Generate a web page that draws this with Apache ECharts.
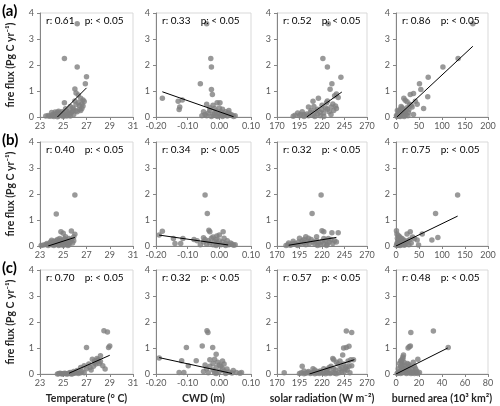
<!DOCTYPE html>
<html><head><meta charset="utf-8">
<script src="https://cdn.jsdelivr.net/npm/echarts@6/dist/echarts.min.js"></script>
<style>html,body{margin:0;padding:0;background:#fff}#c{width:500px;height:406px}</style>
</head><body><div id="c"></div><script>
// ---------- data ----------
const rowLabels = ['(a)', '(b)', '(c)'];
const xNames = ['Temperature (° C)', 'CWD (m)', 'solar radiation (W m⁻²)', 'burned area (10³ km²)'];
const yName = 'fire flux (Pg C yr⁻¹)';
const yTicks = [0, 1, 2, 3, 4];
const xTicksTemp = [23, 25, 27, 29, 31];
const xTicksCWD = [-0.20, -0.10, 0.00, 0.10];
const xTicksSolar = [170, 195, 220, 245, 270];
const xTicksBAab = [0, 50, 100, 150, 200];
const xTicksBAc = [0, 20, 40, 60, 80];
const rValues = [['0.61', '0.33', '0.52', '0.86'], ['0.40', '0.34', '0.32', '0.75'], ['0.70', '0.32', '0.57', '0.48']];
const pValue = '< 0.05';

const a_temp = [[26.2,3.59],[25.1,2.25],[26.2,1.92],[27.0,1.55],[26.9,1.28],[26.0,1.08],[26.1,0.92],[26.3,0.85],[26.5,0.72],[26.7,0.65],[25.1,0.55],[26.0,0.62],[26.3,0.55],[25.6,0.4],[26.6,0.33],[26.4,0.43],[25.9,0.3],[25.3,0.24],[24.9,0.2],[24.3,0.19],[24.0,0.17],[23.7,0.06],[23.5,0.04],[23.8,0.03],[24.4,0.1],[24.6,0.04],[25.1,0.08],[25.4,0.13],[25.7,0.17],[26.1,0.24],[26.4,0.3],[24.3,0.12],[24.6,0.22],[24.9,0.12],[25.6,0.04],[25.9,0.1],[24.0,0.04],[25.3,0.04],[25.8,0.36],[26.1,0.48],[26.6,0.5],[24.2,0.02],[24.8,0.06],[25.0,0.15],[25.5,0.2],[25.2,0.32],[24.5,0.18],[24.7,0.14],[25.8,0.22],[26.2,0.2],[26.5,0.25],[25.5,0.08],[24.1,0.1],[24.5,0.01],[25.0,0.02],[26.8,0.6],[26.7,0.42]];
const a_cwd = [[-0.04,3.59],[-0.027,2.25],[-0.025,1.92],[-0.06,1.28],[-0.025,1.06],[-0.022,0.87],[-0.18,0.72],[-0.13,0.61],[-0.117,0.65],[-0.125,0.38],[-0.127,0.29],[-0.007,0.55],[0.002,0.55],[-0.04,0.49],[-0.03,0.36],[-0.015,0.33],[-0.01,0.23],[0.01,0.3],[0.02,0.2],[0.03,0.15],[0.04,0.08],[0.05,0.05],[0.045,0.02],[-0.05,0.2],[-0.045,0.1],[-0.04,0.05],[-0.035,0.15],[-0.02,0.1],[-0.01,0.05],[0.0,0.12],[0.005,0.2],[0.015,0.08],[0.025,0.04],[0.035,0.1],[-0.025,0.02],[-0.005,0.02],[0.01,0.02],[0.0,0.35],[-0.02,0.45],[0.02,0.12],[-0.03,0.25],[-0.055,0.05],[0.03,0.25],[0.005,0.08],[-0.015,0.15]];
const a_solar = [[227,3.59],[221,2.25],[226,1.92],[241,1.53],[231,1.28],[229,1.07],[236,0.88],[234,0.82],[238,0.75],[216,0.72],[210,0.61],[226,0.62],[225,0.55],[205,0.38],[235,0.42],[236,0.33],[232,0.5],[200,0.1],[195,0.05],[190,0.07],[188,0.03],[193,0.15],[198,0.2],[203,0.12],[207,0.18],[210,0.08],[213,0.22],[215,0.12],[218,0.05],[220,0.28],[222,0.15],[224,0.35],[228,0.2],[230,0.1],[233,0.25],[215,0.3],[208,0.25],[200,0.02],[212,0.02],[222,0.02],[196,0.1],[205,0.05],[218,0.18],[226,0.3],[230,0.38],[220,0.45],[211,0.4]];
const a_ba = [[167,3.59],[135,2.25],[102,1.92],[70,1.53],[51,1.28],[54,1.06],[69,0.78],[31,0.87],[38,0.9],[17,0.72],[20,0.64],[24,0.59],[30,0.49],[35,0.38],[60,0.33],[13,0.36],[9,0.29],[17,0.23],[8,0.17],[42,0.61],[46,0.49],[24,0.36],[17,0.13],[27,0.17],[38,0.1],[3,0.05],[5,0.1],[2,0.02],[7,0.03],[10,0.08],[12,0.15],[14,0.05],[6,0.2],[4,0.12],[1,0.06],[9,0.02],[11,0.4],[15,0.3],[20,0.2],[22,0.1],[28,0.28],[33,0.45],[26,0.05],[18,0.02],[3,0.25]];
const b_temp = [[26.0,1.96],[24.4,1.23],[24.8,0.55],[25.0,0.49],[25.7,0.58],[26.0,0.45],[25.2,0.36],[25.5,0.29],[24.7,0.29],[25.9,0.35],[23.1,0.02],[23.3,0.04],[23.5,0.06],[23.6,0.1],[23.8,0.08],[23.9,0.15],[24.0,0.05],[24.1,0.12],[24.2,0.18],[24.3,0.08],[24.4,0.2],[24.5,0.1],[24.6,0.15],[24.7,0.05],[24.8,0.22],[24.9,0.12],[25.0,0.18],[25.1,0.08],[25.2,0.15],[25.3,0.22],[25.4,0.1],[25.5,0.05],[25.6,0.15],[25.7,0.25],[25.8,0.12],[25.9,0.2],[24.2,0.02],[24.6,0.02],[25.0,0.02],[25.4,0.02],[23.7,0.02],[24.0,0.22],[24.5,0.25],[25.1,0.28]];
const b_cwd = [[-0.045,1.96],[-0.038,1.25],[-0.19,0.42],[-0.18,0.57],[-0.145,0.29],[-0.14,0.1],[-0.122,0.1],[-0.115,0.29],[-0.033,0.61],[-0.03,0.55],[0.012,0.55],[-0.008,0.38],[-0.06,0.05],[-0.05,0.15],[-0.045,0.25],[-0.04,0.08],[-0.035,0.2],[-0.03,0.12],[-0.025,0.3],[-0.02,0.05],[-0.015,0.18],[-0.01,0.25],[-0.005,0.1],[0.0,0.2],[0.005,0.05],[0.01,0.15],[0.015,0.3],[0.02,0.1],[0.025,0.2],[0.03,0.05],[0.035,0.12],[0.04,0.08],[0.045,0.03],[0.05,0.05],[-0.02,0.35],[0.0,0.42],[-0.05,0.32],[-0.07,0.2],[-0.08,0.25],[-0.01,0.02],[0.02,0.02]];
const b_solar = [[219,1.96],[209,1.25],[220,0.59],[222,0.55],[202,0.36],[231,0.51],[238,0.51],[214,0.36],[222,0.29],[227,0.29],[180,0.02],[182,0.05],[185,0.03],[187,0.08],[190,0.1],[192,0.05],[194,0.15],[196,0.08],[198,0.2],[200,0.12],[202,0.05],[204,0.18],[206,0.1],[208,0.25],[210,0.15],[212,0.08],[214,0.2],[216,0.12],[218,0.05],[220,0.18],[222,0.1],[224,0.22],[226,0.08],[228,0.15],[230,0.25],[232,0.1],[234,0.2],[236,0.15],[195,0.3],[200,0.25],[188,0.18],[183,0.12],[205,0.3],[215,0.02],[225,0.02],[193,0.02]];
const b_ba = [[134,1.96],[86,1.25],[91,0.33],[78,0.23],[57,0.46],[49,0.04],[31,0.55],[24,0.46],[1,0.59],[2,0.46],[8,0.36],[13,0.29],[17,0.23],[40,0.29],[46,0.23],[1,0.02],[2,0.1],[3,0.05],[4,0.2],[5,0.12],[6,0.03],[7,0.15],[8,0.08],[9,0.02],[10,0.18],[11,0.1],[12,0.05],[14,0.12],[15,0.2],[16,0.08],[18,0.03],[20,0.15],[22,0.1],[25,0.2],[28,0.05],[30,0.25],[33,0.12],[36,0.35],[3,0.3],[5,0.4],[10,0.3]];
const c_temp = [[28.5,1.66],[28.8,1.62],[27.0,1.02],[29.0,1.08],[28.9,1.02],[28.2,0.7],[27.9,0.6],[28.2,0.48],[27.7,0.44],[27.2,0.38],[28.6,0.19],[26.8,0.32],[26.5,0.25],[26.2,0.13],[27.3,0.25],[27.8,0.38],[27.95,0.51],[27.5,0.57],[25.9,0.1],[25.6,0.06],[28.1,0.4],[28.4,0.32],[27.6,0.3],[27.4,0.15],[27.0,0.2],[26.6,0.1],[27.7,0.5],[28.0,0.55],[24.6,0.01],[24.8,0.02],[25.0,0.01],[25.2,0.02],[25.4,0.01],[25.6,0.02],[25.8,0.01],[26.0,0.03],[24.7,0.03],[24.9,0.0],[25.1,0.03],[25.3,0.0],[25.5,0.04],[25.7,0.0],[26.3,0.02],[26.5,0.05],[24.5,0.0],[26.1,0.07],[26.8,0.05]];
const c_cwd = [[-0.039,1.66],[-0.036,1.6],[-0.104,1.02],[-0.054,1.08],[-0.021,1.02],[-0.01,0.76],[-0.073,0.51],[-0.098,0.32],[-0.19,0.62],[-0.119,0.51],[-0.127,0.06],[-0.112,0.06],[0.015,0.38],[0.024,0.19],[0.044,0.13],[0.054,0.06],[-0.015,0.57],[-0.05,0.1],[-0.04,0.2],[-0.03,0.3],[-0.02,0.15],[-0.01,0.25],[0.0,0.35],[0.0,0.1],[0.01,0.2],[-0.005,0.45],[-0.02,0.4],[0.03,0.08],[0.04,0.04],[0.02,0.02],[-0.01,0.02],[0.065,0.03],[0.07,0.06],[-0.035,0.05],[-0.045,0.35],[0.01,0.5],[-0.03,0.55],[0.005,0.3],[0.015,0.12],[-0.015,0.05]];
const c_solar = [[178,0.05],[247,1.65],[253,1.6],[244,1.0],[247,1.02],[250,1.07],[243,0.73],[232,0.6],[233,0.55],[240,0.5],[236,0.45],[249,0.5],[252,0.55],[255,0.55],[244,0.38],[247,0.28],[250,0.3],[253,0.32],[228,0.25],[222,0.2],[210,0.2],[198,0.3],[205,0.1],[215,0.1],[225,0.1],[235,0.15],[240,0.2],[230,0.3],[238,0.38],[195,0.02],[197,0.05],[200,0.01],[202,0.03],[204,0.06],[207,0.02],[209,0.05],[212,0.01],[214,0.04],[217,0.02],[219,0.07],[221,0.03],[224,0.01],[226,0.05],[229,0.02],[231,0.06],[234,0.03],[236,0.01],[239,0.05],[242,0.08],[245,0.1],[248,0.15],[251,0.05],[200,0.12],[212,0.15],[218,0.12],[226,0.18],[233,0.2],[242,0.25],[246,0.2]];
const c_ba = [[12.9,1.6],[32.5,1.65],[10.5,1.0],[11.5,1.05],[12.5,1.08],[6.5,0.73],[6,0.6],[4,0.5],[5,0.45],[19,0.57],[15,0.45],[16,0.3],[11,0.37],[20.4,0.06],[17.6,0.05],[45.4,1.02],[1,0.02],[2,0.05],[3,0.1],[4,0.02],[5,0.15],[5,0.25],[6,0.35],[6,0.05],[7,0.2],[7,0.45],[8,0.1],[8,0.3],[9,0.02],[9,0.15],[10,0.25],[11,0.05],[12,0.12],[13,0.02],[14,0.18],[15,0.08],[16,0.02],[18,0.12],[4,0.3],[3,0.4],[5,0.55],[6,0.65],[2,0.2],[10,0.4],[12,0.3],[14,0.05],[17,0.2],[19,0.02]];

// regression line end points
const fit_a = [[[24.5,0],[27.0,1.12]], [[-0.18,0.97],[0.045,0.01]], [[203,0],[242,0.96]], [[2,0],[167,2.72]]];
const fit_b = [[[23.7,0],[26.0,0.33]], [[-0.19,0.42],[0.028,0.04]], [[183,0.03],[236,0.33]], [[0,0],[134,1.15]]];
const fit_c = [[[25.5,0.03],[29.0,0.72]], [[-0.19,0.63],[0.04,0.02]], [[206,0],[256,0.55]], [[0,0],[45,1.0]]];

const points = [[a_temp, a_cwd, a_solar, a_ba], [b_temp, b_cwd, b_solar, b_ba], [c_temp, c_cwd, c_solar, c_ba]];
const fits = [fit_a, fit_b, fit_c];
const xTicks = [[xTicksTemp, xTicksCWD, xTicksSolar, xTicksBAab], [xTicksTemp, xTicksCWD, xTicksSolar, xTicksBAab], [xTicksTemp, xTicksCWD, xTicksSolar, xTicksBAc]];

// ---------- layout ----------
const FONT = 'Lato, "Liberation Sans", sans-serif';
const colLeft = [40, 156, 277, 396];
const colWidth = [93, 95, 90, 92];
const rowTop = [13, 142, 270];
const rowH = 104;
const AX = '#868686';

const grids = [], xAxes = [], yAxes = [], series = [], graphics = [];
for (let r = 0; r < 3; r++) {
  for (let c = 0; c < 4; c++) {
    const i = r * 4 + c;
    const tk = xTicks[r][c];
    grids.push({ left: colLeft[c], top: rowTop[r], width: colWidth[c], height: rowH, show: true, borderColor: '#d9d9d9', borderWidth: 1 });
    const dec = c === 1;
    xAxes.push({
      type: 'value', gridIndex: i, min: tk[0], max: tk[tk.length - 1], interval: tk[1] - tk[0],
      axisLine: { show: true, onZero: false, lineStyle: { color: AX } },
      axisTick: { show: true, length: 3, lineStyle: { color: AX } },
      splitLine: { show: false },
      axisLabel: { fontSize: 9, color: '#595959', fontFamily: FONT, margin: 5,
        formatter: v => dec ? (Math.abs(v) < 1e-9 ? '0.00' : v.toFixed(2)) : String(Math.round(v)) },
      name: r === 2 ? xNames[c] : '', nameLocation: 'middle', nameGap: 19,
      nameTextStyle: { fontSize: 10.5, fontWeight: 'bold', color: '#262626', fontFamily: FONT }
    });
    yAxes.push({
      type: 'value', gridIndex: i, min: yTicks[0], max: yTicks[yTicks.length - 1], interval: yTicks[1] - yTicks[0],
      axisLine: { show: true, onZero: false, lineStyle: { color: AX } },
      axisTick: { show: true, length: 3, lineStyle: { color: AX } },
      splitLine: { show: false },
      axisLabel: { fontSize: 9, color: '#595959', fontFamily: FONT, margin: 6 },
      name: c === 0 ? yName : '', nameLocation: 'middle', nameGap: 24,
      nameTextStyle: { fontSize: 10.5, fontWeight: 'bold', color: '#262626', fontFamily: FONT }
    });
    series.push({ type: 'scatter', xAxisIndex: i, yAxisIndex: i, data: points[r][c], symbolSize: 5.5,
      itemStyle: { color: '#7f7f7f' }, silent: true, z: 2 });
    series.push({ type: 'line', xAxisIndex: i, yAxisIndex: i, data: fits[r][c], symbol: 'none',
      lineStyle: { color: '#000', width: 1 }, silent: true, z: 3 });
    graphics.push({ type: 'text', left: colLeft[c] + 6, top: rowTop[r] + 3, z: 10,
      style: { text: 'r: ' + rValues[r][c] + '    p: ' + pValue, font: '10px ' + FONT, fill: '#000' } });
  }
  graphics.push({ type: 'text', left: 2, top: rowTop[r] - 9, z: 10,
    style: { text: rowLabels[r], font: 'bold 15px ' + FONT, fill: '#000' } });
}

const chart = echarts.init(document.getElementById('c'), null, { renderer: 'canvas' });
chart.setOption({
  animation: false,
  backgroundColor: '#fff',
  grid: grids, xAxis: xAxes, yAxis: yAxes, series: series, graphic: graphics
});
</script></body></html>
